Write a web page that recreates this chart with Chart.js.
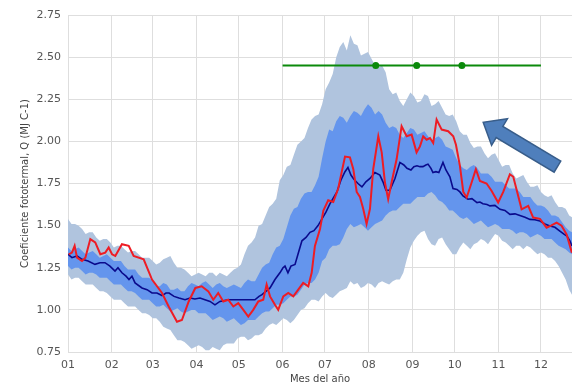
<!DOCTYPE html>
<html>
<head>
<meta charset="utf-8">
<script src="https://cdn.jsdelivr.net/npm/chart.js@4/dist/chart.umd.min.js"></script>
<style>
  html, body { margin: 0; padding: 0; background: #ffffff; }
  #c { display: block; }
</style>
</head>
<body>
<canvas id="c" width="572" height="384"></canvas>
<script>
// Day of year (leap year) where each month starts, and its label
const monthStartDays = [1, 32, 61, 92, 122, 153, 183, 214, 245, 275, 306, 336];
const monthLabels = ['01', '02', '03', '04', '05', '06', '07', '08', '09', '10', '11', '12'];
const yTicks = [0.75, 1.00, 1.25, 1.50, 1.75, 2.00, 2.25, 2.50, 2.75];

// Envelope bands: values every 5 days ...
const bandDays = [1, 6, 11, 16, 21, 26, 31, 36, 41, 46, 51, 56, 61, 66, 71, 76, 81, 86, 91, 96,
  101, 106, 111, 116, 121, 126, 131, 136, 141, 146, 151, 156, 161, 166, 171, 176, 181, 186, 191, 196,
  201, 206, 211, 216, 221, 226, 231, 236, 241, 246, 251, 256, 261, 266, 271, 276, 281, 286, 291, 296,
  301, 306, 311, 316, 321, 326, 331, 336, 341, 346, 351, 356, 358];
const outerHigh = [1.54, 1.51, 1.48, 1.46, 1.43, 1.42, 1.40, 1.38, 1.36, 1.35, 1.33, 1.31, 1.29, 1.28, 1.31, 1.28, 1.25, 1.22, 1.21, 1.21,
  1.22, 1.20, 1.21, 1.22, 1.25, 1.33, 1.40, 1.50, 1.56, 1.63, 1.77, 1.85, 1.92, 2.00, 2.08, 2.15, 2.22, 2.35, 2.50, 2.59,
  2.63, 2.57, 2.52, 2.49, 2.44, 2.41, 2.28, 2.24, 2.25, 2.27, 2.24, 2.27, 2.22, 2.20, 2.15, 2.12, 2.04, 1.99, 1.97, 1.93,
  1.92, 1.89, 1.86, 1.81, 1.79, 1.76, 1.73, 1.70, 1.67, 1.64, 1.61, 1.56, 1.55];
const innerHigh = [1.37, 1.36, 1.35, 1.34, 1.33, 1.32, 1.31, 1.29, 1.26, 1.24, 1.21, 1.19, 1.17, 1.14, 1.15, 1.12, 1.11, 1.14, 1.15, 1.16,
  1.15, 1.15, 1.14, 1.14, 1.14, 1.16, 1.17, 1.21, 1.27, 1.33, 1.38, 1.49, 1.60, 1.66, 1.70, 1.74, 1.90, 2.07, 2.12, 2.14,
  2.15, 2.17, 2.19, 2.20, 2.18, 2.11, 2.09, 2.04, 2.05, 2.07, 2.05, 2.03, 2.02, 2.01, 1.96, 1.90, 1.84, 1.85, 1.84, 1.81,
  1.79, 1.76, 1.74, 1.72, 1.70, 1.67, 1.64, 1.62, 1.59, 1.56, 1.52, 1.47, 1.46];
const innerLow = [1.26, 1.25, 1.23, 1.22, 1.21, 1.19, 1.17, 1.15, 1.13, 1.11, 1.08, 1.06, 1.04, 1.02, 1.01, 1.00, 0.99, 0.99, 1.00, 0.98,
  0.96, 0.95, 0.95, 0.94, 0.93, 0.92, 0.94, 0.96, 0.99, 1.01, 1.03, 1.06, 1.08, 1.12, 1.16, 1.18, 1.29, 1.36, 1.38, 1.43,
  1.51, 1.50, 1.49, 1.49, 1.52, 1.56, 1.59, 1.61, 1.63, 1.65, 1.67, 1.69, 1.68, 1.64, 1.59, 1.57, 1.54, 1.53, 1.52, 1.51,
  1.50, 1.50, 1.48, 1.47, 1.46, 1.45, 1.44, 1.44, 1.42, 1.40, 1.37, 1.34, 1.33];
const outerLow = [1.21, 1.19, 1.17, 1.15, 1.13, 1.11, 1.08, 1.06, 1.04, 1.02, 1.00, 0.98, 0.95, 0.93, 0.89, 0.85, 0.82, 0.79, 0.78, 0.78,
  0.76, 0.77, 0.79, 0.80, 0.83, 0.84, 0.83, 0.85, 0.89, 0.92, 0.93, 0.94, 0.94, 1.00, 1.04, 1.06, 1.08, 1.08, 1.09, 1.12,
  1.17, 1.16, 1.14, 1.15, 1.16, 1.16, 1.17, 1.18, 1.30, 1.41, 1.46, 1.42, 1.38, 1.43, 1.36, 1.33, 1.40, 1.36, 1.40, 1.41,
  1.42, 1.44, 1.40, 1.36, 1.38, 1.38, 1.35, 1.34, 1.31, 1.29, 1.22, 1.12, 1.09];

// ... plus the in-between days, where the ragged edges peak or dip
const bandMidDays = [3.5, 8.5, 13.5, 18.5, 23.5, 28.5, 33.5, 38.5, 43.5, 48.5, 53.5, 58.5, 63.5, 68.5, 73.5, 78.5, 83.5, 88.5, 93.5, 98.5,
  103.5, 108.5, 113.5, 118.5, 123.5, 128.5, 133.5, 138.5, 143.5, 148.5, 153.5, 158.5, 163.5, 168.5, 173.5, 178.5, 183.5, 188.5, 193.5, 198.5,
  203.5, 208.5, 213.5, 218.5, 223.5, 228.5, 233.5, 238.5, 243.5, 248.5, 253.5, 258.5, 263.5, 268.5, 273.5, 278.5, 283.5, 288.5, 293.5, 298.5,
  303.5, 308.5, 313.5, 318.5, 323.5, 328.5, 333.5, 338.5, 343.5, 348.5, 353.5];
const outerHighMid = [1.51, 1.50, 1.45, 1.46, 1.41, 1.42, 1.37, 1.38, 1.34, 1.35, 1.31, 1.31, 1.27, 1.30, 1.32, 1.25, 1.24, 1.20, 1.22, 1.20,
  1.22, 1.22, 1.20, 1.24, 1.27, 1.38, 1.43, 1.51, 1.61, 1.66, 1.80, 1.86, 1.98, 2.02, 2.13, 2.16, 2.31, 2.40, 2.56, 2.54,
  2.58, 2.51, 2.53, 2.45, 2.45, 2.31, 2.29, 2.21, 2.29, 2.23, 2.28, 2.21, 2.24, 2.16, 2.16, 2.06, 2.04, 1.96, 1.97, 1.90,
  1.93, 1.85, 1.86, 1.78, 1.80, 1.73, 1.74, 1.68, 1.68, 1.61, 1.60];
const innerHighMid = [1.35, 1.37, 1.33, 1.35, 1.31, 1.33, 1.29, 1.29, 1.24, 1.24, 1.19, 1.19, 1.14, 1.16, 1.12, 1.13, 1.11, 1.16, 1.14, 1.17,
  1.13, 1.16, 1.13, 1.15, 1.13, 1.18, 1.17, 1.25, 1.28, 1.37, 1.42, 1.56, 1.61, 1.69, 1.70, 1.79, 2.00, 2.06, 2.15, 2.11,
  2.18, 2.15, 2.22, 2.16, 2.16, 2.08, 2.08, 2.02, 2.08, 2.04, 2.06, 2.00, 2.03, 1.97, 1.95, 1.86, 1.83, 1.86, 1.81, 1.81,
  1.76, 1.76, 1.72, 1.72, 1.67, 1.67, 1.62, 1.61, 1.56, 1.55, 1.49];
const innerLowMid = [1.24, 1.25, 1.21, 1.22, 1.19, 1.19, 1.15, 1.15, 1.11, 1.10, 1.06, 1.06, 1.02, 1.03, 0.99, 1.01, 0.98, 1.00, 0.98, 0.98,
  0.94, 0.96, 0.93, 0.95, 0.91, 0.94, 0.94, 0.98, 0.99, 1.03, 1.04, 1.08, 1.09, 1.15, 1.16, 1.22, 1.31, 1.38, 1.39, 1.48,
  1.49, 1.51, 1.47, 1.51, 1.53, 1.58, 1.59, 1.63, 1.63, 1.67, 1.67, 1.70, 1.65, 1.62, 1.59, 1.55, 1.55, 1.51, 1.53, 1.49,
  1.51, 1.48, 1.48, 1.45, 1.46, 1.43, 1.45, 1.42, 1.42, 1.38, 1.36];
const outerLowMid = [1.18, 1.19, 1.15, 1.15, 1.11, 1.10, 1.06, 1.06, 1.02, 1.02, 0.98, 0.97, 0.95, 0.90, 0.88, 0.82, 0.81, 0.77, 0.79, 0.76,
  0.78, 0.76, 0.80, 0.80, 0.84, 0.82, 0.85, 0.86, 0.91, 0.91, 0.95, 0.92, 0.97, 1.01, 1.06, 1.05, 1.10, 1.07, 1.11, 1.13,
  1.15, 1.13, 1.16, 1.13, 1.17, 1.15, 1.18, 1.22, 1.37, 1.44, 1.47, 1.39, 1.42, 1.39, 1.33, 1.37, 1.38, 1.39, 1.42, 1.39,
  1.45, 1.41, 1.38, 1.38, 1.36, 1.37, 1.33, 1.33, 1.31, 1.26, 1.18];

// Mean coefficient (dark blue line)
const meanDays = [1, 3.8, 7.4, 10.9, 15.2, 20.1, 23.7, 27.2, 30.7, 34.3,
  36.4, 39.2, 42.1, 44.2, 46.3, 48.5, 53.4, 57.0, 60.5, 64.0,
  67.6, 70.4, 72.6, 76.1, 79.6, 83.9, 87.4, 90.9, 94.5, 98.0,
  101.6, 105.1, 108.6, 114.3, 119.3, 124.2, 129.9, 133.4, 136.3, 138.4,
  141.2, 144.1, 147.6, 151.1, 153.3, 154.7, 156.8, 158.9, 161.8, 163.9,
  166.7, 169.6, 172.4, 175.2, 178.1, 180.9, 183.7, 186.6, 189.4, 191.5,
  194.3, 197.2, 199.3, 201.4, 203.5, 206.4, 209.2, 212.0, 214.9, 218.4,
  221.9, 224.1, 226.2, 229.0, 232.6, 236.1, 238.9, 241.1, 243.9, 246.0,
  248.2, 250.3, 252.4, 254.5, 256.0, 258.1, 259.5, 261.6, 263.7, 266.6,
  268.7, 271.5, 273.7, 276.5, 278.6, 280.8, 284.3, 287.1, 290.7, 292.8,
  294.9, 297.8, 299.9, 303.4, 307.0, 310.5, 314.0, 317.6, 321.1, 324.7,
  328.2, 331.7, 335.3, 338.8, 342.4, 345.9, 349.4, 352.3, 354.4, 356.5,
  357.9];
const meanValues = [1.33, 1.31, 1.32, 1.30, 1.29, 1.27, 1.28, 1.28, 1.26, 1.23,
  1.25, 1.22, 1.20, 1.18, 1.20, 1.16, 1.13, 1.12, 1.10, 1.10,
  1.085, 1.10, 1.10, 1.08, 1.07, 1.06, 1.07, 1.065, 1.07, 1.06,
  1.05, 1.03, 1.05, 1.06, 1.06, 1.06, 1.06, 1.06, 1.08, 1.09,
  1.11, 1.13, 1.18, 1.22, 1.25, 1.26, 1.22, 1.26, 1.27, 1.33,
  1.41, 1.43, 1.46, 1.47, 1.50, 1.54, 1.58, 1.63, 1.67, 1.70,
  1.77, 1.82, 1.845, 1.80, 1.775, 1.75, 1.73, 1.76, 1.78, 1.815,
  1.80, 1.76, 1.71, 1.71, 1.78, 1.875, 1.86, 1.84, 1.83, 1.85,
  1.855, 1.85, 1.85, 1.86, 1.865, 1.84, 1.815, 1.82, 1.815, 1.875,
  1.83, 1.79, 1.72, 1.715, 1.70, 1.676, 1.657, 1.66, 1.637, 1.64,
  1.63, 1.625, 1.617, 1.62, 1.597, 1.59, 1.567, 1.57, 1.56, 1.55,
  1.537, 1.535, 1.527, 1.51, 1.498, 1.49, 1.468, 1.45, 1.438, 1.41,
  1.38];

// Current year coefficient (red line)
const yearDays = [1.5, 3.8, 5.7, 7.4, 10.9, 13.3, 16.8, 20.3, 23.9, 27.4,
  29.8, 32.2, 34.5, 39.2, 44.0, 47.5, 54.6, 60.5, 67.6, 72.3,
  78.2, 81.7, 86.5, 91.2, 95.7, 100.4, 103.9, 107.4, 111.0, 114.5,
  118.1, 121.6, 125.2, 128.7, 132.2, 135.8, 139.3, 141.7, 144.1, 147.6,
  149.9, 153.5, 157.0, 160.6, 164.1, 167.6, 171.2, 173.6, 175.9, 179.5,
  181.9, 185.3, 188.9, 192.4, 197.2, 200.7, 203.1, 205.5, 207.8, 210.1,
  212.5, 214.9, 217.2, 220.8, 223.2, 225.5, 227.8, 230.2, 233.8, 237.3,
  240.9, 244.4, 247.9, 250.3, 252.6, 255.0, 257.4, 259.7, 262.1, 265.7,
  270.3, 273.9, 275.8, 278.6, 281.0, 283.4, 286.9, 289.9, 292.8, 297.5,
  301.1, 305.7, 309.3, 314.0, 316.4, 319.9, 322.3, 327.0, 330.5, 335.3,
  340.0, 343.1, 347.1, 350.6, 354.2, 357.9];
const yearValues = [1.33, 1.34, 1.38, 1.31, 1.29, 1.31, 1.42, 1.40, 1.33, 1.34,
  1.37, 1.33, 1.32, 1.39, 1.38, 1.32, 1.30, 1.18, 1.10, 1.02,
  0.93, 0.94, 1.05, 1.13, 1.14, 1.11, 1.06, 1.10, 1.05, 1.06,
  1.02, 1.04, 1.00, 0.96, 1.00, 1.05, 1.06, 1.15, 1.08, 1.03,
  1.00, 1.08, 1.10, 1.08, 1.12, 1.16, 1.14, 1.22, 1.38, 1.48,
  1.59, 1.65, 1.64, 1.72, 1.91, 1.905, 1.835, 1.70, 1.67, 1.60,
  1.51, 1.60, 1.835, 2.03, 1.935, 1.756, 1.657, 1.756, 1.895, 2.09,
  2.03, 2.04, 1.935, 1.97, 2.03, 2.01, 2.02, 1.99, 2.13, 2.07,
  2.06, 2.03, 1.98, 1.855, 1.70, 1.667, 1.756, 1.835, 1.765, 1.75,
  1.706, 1.637, 1.70, 1.805, 1.79, 1.676, 1.597, 1.617, 1.548, 1.54,
  1.488, 1.50, 1.518, 1.50, 1.448, 1.339];

// Reference level with marked dates (green line)
const levelDays = [153, 219, 248, 280, 336];
const levelValues = [2.45, 2.45, 2.45, 2.45, 2.45];
const levelMarkerRadius = [0, 3.5, 3.5, 3.5, 0];

// Callout arrow, given in data units (tail -> tip)
const arrowTail = { day: 347.7, value: 1.85 };
const arrowTip = { day: 295.1, value: 2.113 };

const xy = (days, values) => days.map((d, i) => ({ x: d, y: values[i] }));

// Interleave the 5-day values with the in-between ones, in day order
const band = (main, mid) => {
  const pts = [];
  bandDays.forEach((d, i) => {
    pts.push({ x: d, y: main[i] });
    if (i < mid.length) pts.push({ x: bandMidDays[i], y: mid[i] });
  });
  return pts;
};

const FONT = "'DejaVu Sans', 'Liberation Sans', sans-serif";

const arrowPlugin = {
  id: 'calloutArrow',
  afterDatasetsDraw(chart) {
    const { ctx, scales: { x, y } } = chart;
    const tx = x.getPixelForValue(arrowTail.day), ty = y.getPixelForValue(arrowTail.value);
    const hx = x.getPixelForValue(arrowTip.day), hy = y.getPixelForValue(arrowTip.value);
    const len = Math.hypot(hx - tx, hy - ty);
    const ux = (hx - tx) / len, uy = (hy - ty) / len;
    const nx = -uy, ny = ux;
    const shaft = 6.5, head = 15.5, headLen = 19;
    const bx = hx - ux * headLen, by = hy - uy * headLen;
    ctx.save();
    ctx.beginPath();
    ctx.moveTo(tx + nx * shaft, ty + ny * shaft);
    ctx.lineTo(bx + nx * shaft, by + ny * shaft);
    ctx.lineTo(bx + nx * head, by + ny * head);
    ctx.lineTo(hx, hy);
    ctx.lineTo(bx - nx * head, by - ny * head);
    ctx.lineTo(bx - nx * shaft, by - ny * shaft);
    ctx.lineTo(tx - nx * shaft, ty - ny * shaft);
    ctx.closePath();
    ctx.fillStyle = '#4f7fbc';
    ctx.fill();
    ctx.lineWidth = 1.5;
    ctx.strokeStyle = '#385d8a';
    ctx.stroke();
    ctx.restore();
  }
};

new Chart(document.getElementById('c'), {
  type: 'line',
  data: {
    datasets: [
      {
        data: band(outerHigh, outerHighMid), fill: '+1', backgroundColor: 'rgb(176,196,222)',
        borderWidth: 0, pointRadius: 0, order: 10
      },
      {
        data: band(outerLow, outerLowMid), fill: false,
        borderWidth: 0, pointRadius: 0, order: 9
      },
      {
        data: band(innerHigh, innerHighMid), fill: '+1', backgroundColor: 'rgb(100,149,237)',
        borderWidth: 0, pointRadius: 0, order: 8
      },
      {
        data: band(innerLow, innerLowMid), fill: false,
        borderWidth: 0, pointRadius: 0, order: 7
      },
      {
        data: xy(meanDays, meanValues), borderColor: '#0a0a8c', borderWidth: 1.6,
        pointRadius: 0, fill: false, order: 2
      },
      {
        data: xy(yearDays, yearValues), borderColor: '#ee1c24', borderWidth: 2,
        pointRadius: 0, fill: false, order: 1
      },
      {
        data: xy(levelDays, levelValues), borderColor: '#0b8a0b', borderWidth: 2,
        pointRadius: levelMarkerRadius, pointBackgroundColor: '#0b8a0b',
        pointBorderColor: '#0b8a0b', pointBorderWidth: 0, fill: false, order: 0
      }
    ]
  },
  options: {
    responsive: false,
    animation: false,
    devicePixelRatio: 1,
    layout: { padding: { top: 15, right: 0, bottom: 0, left: 0 } },
    plugins: { legend: { display: false }, tooltip: { enabled: false } },
    elements: { line: { tension: 0 } },
    scales: {
      x: {
        type: 'linear', min: 1, max: 358,
        afterBuildTicks: (scale) => { scale.ticks = monthStartDays.map(v => ({ value: v })); },
        afterFit: (scale) => { scale.height = 32; },
        ticks: {
          autoSkip: false, maxRotation: 0, padding: 7,
          color: '#555555', font: { family: FONT, size: 11 },
          callback: (v, i) => monthLabels[i]
        },
        grid: { color: '#dedede', lineWidth: 1, drawTicks: false },
        border: { display: false },
        title: {
          display: true, text: 'Mes del año', color: '#444444',
          font: { family: FONT, size: 10, lineHeight: 1 }, padding: { top: 0, bottom: 0 }
        }
      },
      y: {
        type: 'linear', min: 0.75, max: 2.75,
        afterBuildTicks: (scale) => { scale.ticks = yTicks.map(v => ({ value: v })); },
        afterFit: (scale) => { scale.width = 68; },
        ticks: {
          padding: 7, color: '#555555', font: { family: FONT, size: 11 },
          callback: (v) => Number(v).toFixed(2)
        },
        grid: { color: '#dedede', lineWidth: 1, drawTicks: false },
        border: { display: false },
        title: {
          display: true, text: 'Coeficiente fototermal, Q (MJ C-1)', color: '#444444',
          font: { family: FONT, size: 10, lineHeight: 1 }, padding: { top: 20, bottom: 0 }
        }
      }
    }
  },
  plugins: [arrowPlugin]
});
</script>
</body>
</html>
